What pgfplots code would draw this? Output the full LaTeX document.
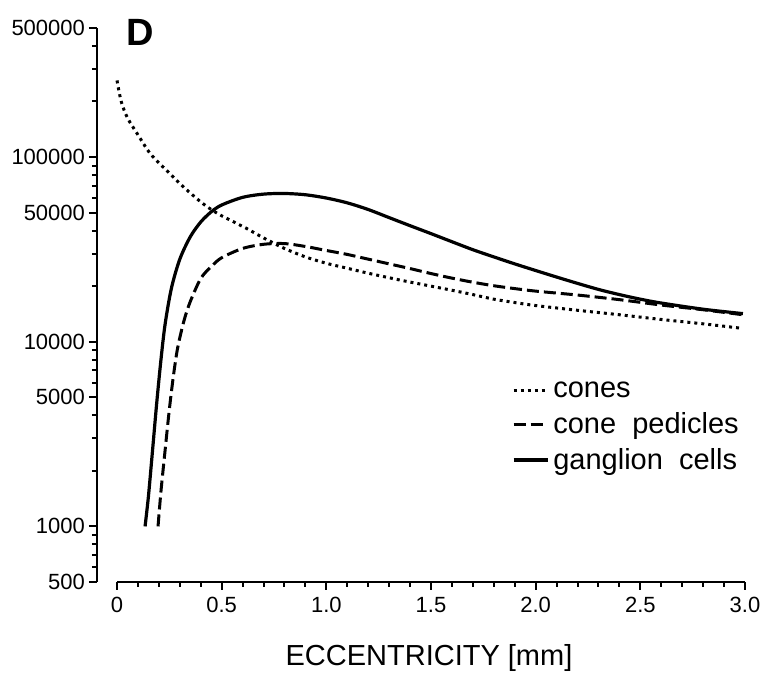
\documentclass[border=0pt]{standalone}
\usepackage{fontspec}
\setmainfont{Liberation Sans}
\usepackage{pgfplots}
\pgfplotsset{compat=1.18}
\begin{document}
\begin{tikzpicture}
\begin{axis}[
  scale only axis,
  width=324pt, height=277pt,
  ymode=log,
  xmin=-0.0956, xmax=3.0,
  ymin=500, ymax=500000,
  axis x line=bottom,
  axis y line=left,
  x axis line style={draw=none},
  y axis line style={line width=1.4pt,-},
  tick align=outside,
  xtick={0,0.5,1.0,1.5,2.0,2.5,3.0},
  xticklabels={0,0.5,1.0,1.5,2.0,2.5,3.0},
  minor xtick={0.1,0.2,0.3,0.4,0.6,0.7,0.8,0.9,1.1,1.2,1.3,1.4,1.6,1.7,1.8,1.9,2.1,2.2,2.3,2.4,2.6,2.7,2.8,2.9},
  ytick={500,1000,5000,10000,50000,100000,500000},
  yticklabels={500,1000,5000,10000,50000,100000,500000},
  minor ytick={600,700,800,900,2000,3000,4000,6000,7000,8000,9000,20000,30000,40000,60000,70000,80000,90000,200000,300000,400000},
  major tick length=4pt,
  minor tick length=2.5pt,
  every tick/.style={black, line width=1pt},
  tick label style={font=\fontsize{11}{13}\selectfont},
  yticklabel style={xshift=1.5pt},
  /pgf/number format/assume math mode=true,
  xlabel={ECCENTRICITY [mm]},
  xlabel style={font=\fontsize{14.5}{17}\selectfont, yshift=-9pt, xshift=4pt},
  legend style={at={(rel axis cs:0.64,0.37)}, anchor=north west, draw=none, fill=none,
    font=\fontsize{14.5}{16}\selectfont, row sep=2pt, inner sep=0pt,
    legend cell align=left},
  legend image code/.code={\draw[#1] (0pt,0pt) -- (17pt,0pt);},
  clip=false,
]
\addplot[black, line width=1.5pt, dotted, smooth] coordinates {
(0,260000) (0.02,200000) (0.05,163000) (0.10,132000) (0.16,104000) (0.24,84000)
(0.32,68500) (0.41,56000) (0.48,49500) (0.55,45000) (0.62,41000) (0.70,36500)
(0.80,32000) (0.90,28800) (1.00,26600) (1.10,25000) (1.20,23500) (1.35,21600)
(1.50,20000) (1.60,19000) (1.70,18000) (1.80,17000) (1.90,16300) (2.00,15700)
(2.20,14800) (2.40,14000) (2.60,13200) (2.80,12500) (2.99,11800)
};
\addlegendentry{cones}
\addplot[black, line width=1.5pt, dash pattern=on 6pt off 2.5pt, smooth] coordinates {
(0.196,1000) (0.21,1550) (0.23,2600) (0.25,4300) (0.27,6600) (0.29,9300) (0.32,13000)
(0.35,16500) (0.40,22000) (0.45,25500) (0.50,28500) (0.60,32000) (0.70,33700)
(0.80,34000) (0.90,32800) (1.00,31200) (1.10,29700) (1.20,28000) (1.30,26400)
(1.40,24900) (1.50,23400) (1.60,22100) (1.70,21000) (1.80,20100) (1.90,19400)
(2.00,18800) (2.20,17900) (2.40,16900) (2.60,15800) (2.80,14900) (2.99,14000)
};
\addlegendentry{cone\ \ pedicles}
\addplot[black, line width=1.6pt, smooth] coordinates {
(0.134,1000) (0.15,1450) (0.17,2600) (0.19,4700) (0.21,8000) (0.23,12500) (0.26,19500)
(0.30,28000) (0.35,37000) (0.40,44500) (0.45,50500) (0.50,55000) (0.60,60500)
(0.70,63000) (0.80,63500) (0.90,62500) (1.00,60000) (1.10,56500) (1.20,52000)
(1.30,47000) (1.40,42500) (1.50,38500) (1.60,34800) (1.70,31500) (1.80,28800)
(1.90,26400) (2.00,24300) (2.10,22400) (2.20,20700) (2.30,19200) (2.40,18000)
(2.50,17000) (2.60,16200) (2.80,15000) (2.99,14200)
};
\addlegendentry{ganglion\ \ cells}
\draw[line width=1.4pt] (axis cs:0,500) -- (axis cs:3,500);
\node[anchor=north west, inner sep=0pt, font=\fontsize{19}{21}\selectfont\bfseries] at (rel axis cs:0.045,1.016) {D};
\end{axis}
\pgfresetboundingbox
\path ([shift={(-48.5pt,-46pt)}]current axis.south west) rectangle ([shift={(7.5pt,14pt)}]current axis.north east);
\end{tikzpicture}
\end{document}
